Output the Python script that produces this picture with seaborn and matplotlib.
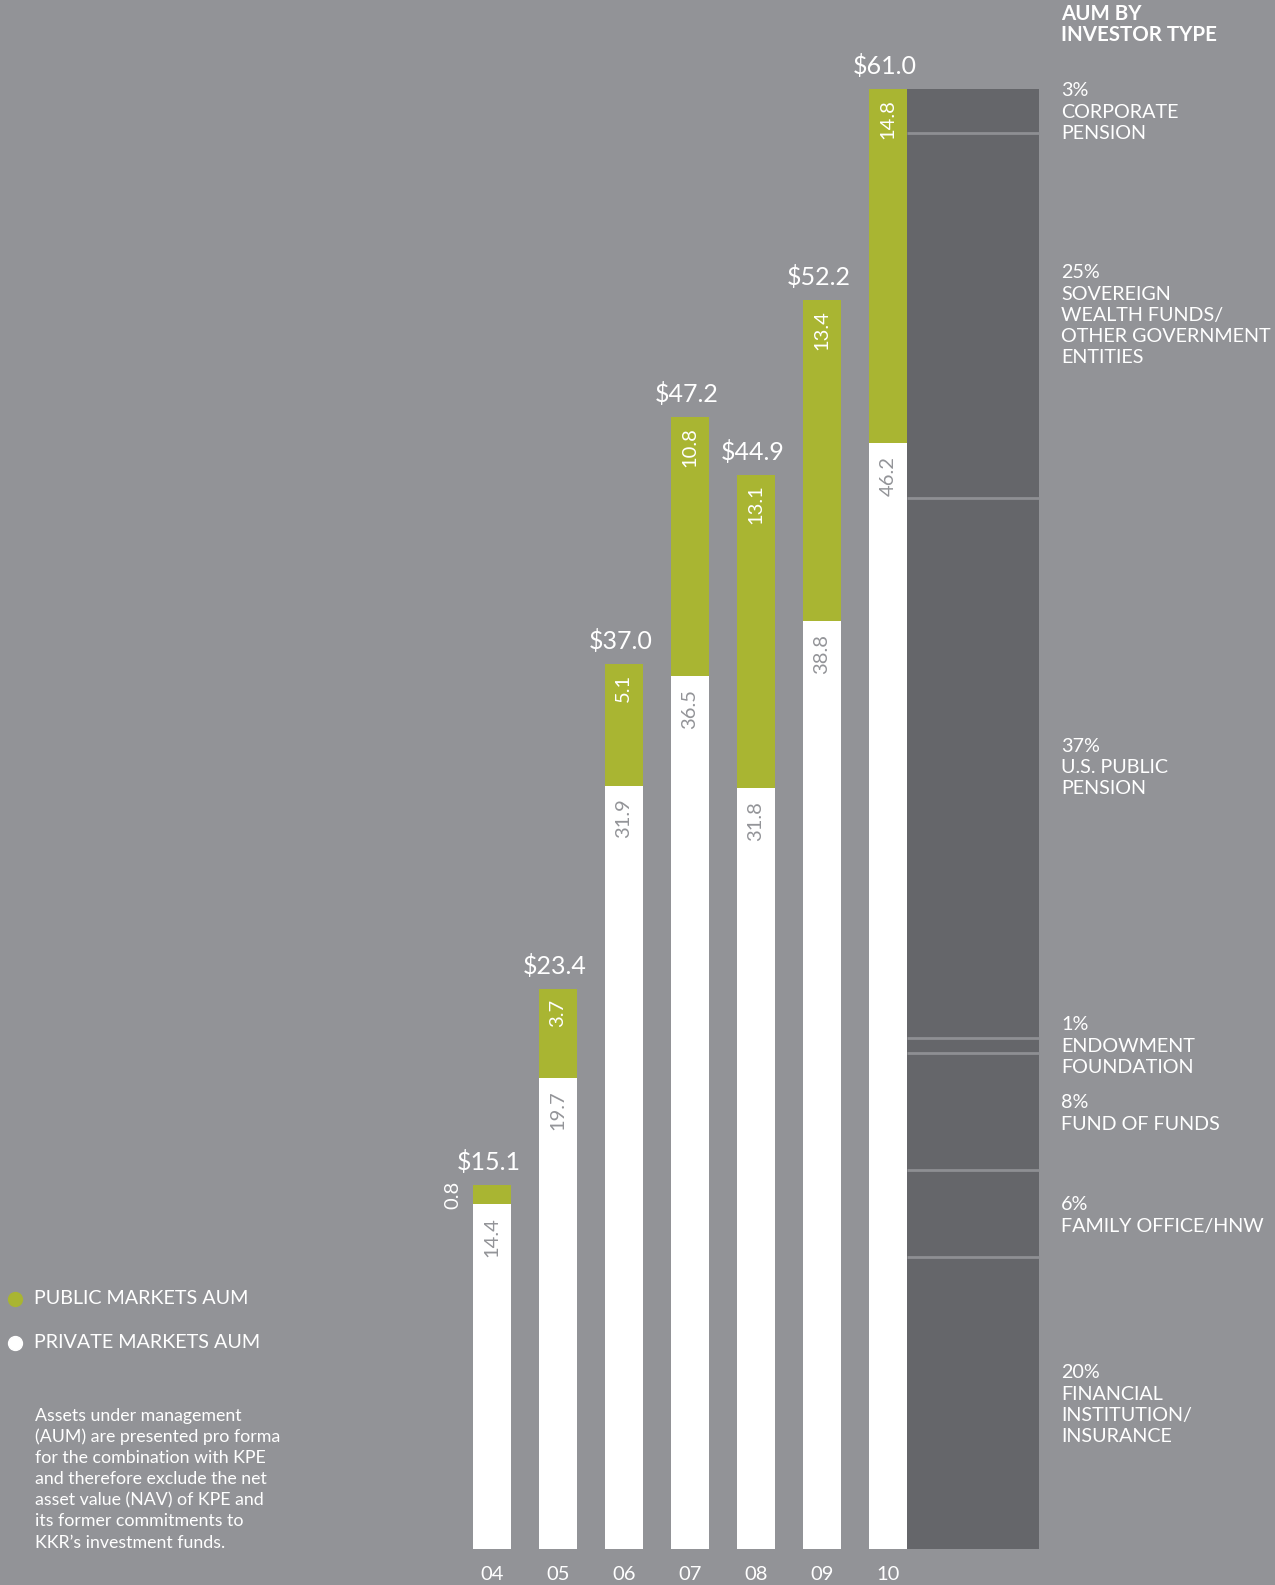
import matplotlib
matplotlib.use("Agg")
import matplotlib.pyplot as plt
import numpy as np
import pandas as pd
import seaborn as sns
from matplotlib.lines import Line2D

# ---- data -------------------------------------------------------------
years = ["04", "05", "06", "07", "08", "09", "10"]
private_aum = [14.4, 19.7, 31.9, 36.5, 31.8, 38.8, 46.2]
public_aum = [0.8, 3.7, 5.1, 10.8, 13.1, 13.4, 14.8]
total_labels = ["$15.1", "$23.4", "$37.0", "$47.2", "$44.9", "$52.2", "$61.0"]

# AUM by investor type for the latest year, listed top to bottom
investor_shares = [3, 25, 37, 1, 8, 6, 20]
investor_labels = [
    ["3%", "CORPORATE", "PENSION"],
    ["25%", "SOVEREIGN", "WEALTH FUNDS/", "OTHER GOVERNMENT", "ENTITIES"],
    ["37%", "U.S. PUBLIC", "PENSION"],
    ["1%", "ENDOWMENT", "FOUNDATION"],
    ["8%", "FUND OF FUNDS"],
    ["6%", "FAMILY OFFICE/HNW"],
    ["20%", "FINANCIAL", "INSTITUTION/", "INSURANCE"],
]
investor_total = 61.0

legend_labels = ["PUBLIC MARKETS AUM", "PRIVATE MARKETS AUM"]
footnote_lines = [
    "Assets under management",
    "(AUM) are presented pro forma",
    "for the combination with KPE",
    "and therefore exclude the net",
    "asset value (NAV) of KPE and",
    "its former commitments to",
    "KKR\u2019s investment funds.",
]

# ---- style --------------------------------------------------------------
BG = "#929397"
GREEN = "#a9b532"
DARK = "#65666a"
SEP = "#8e8f93"
LABEL_GRAY = "#939498"

sns.set_theme(style="white")
plt.rcParams["font.family"] = ["Lato", "DejaVu Sans"]

W, H = 1275, 1585
fig = plt.figure(figsize=(W / 100, H / 100), dpi=100)
fig.patch.set_facecolor(BG)
ax = fig.add_axes([0, 0, 1, 1])
ax.set_facecolor(BG)

df = pd.DataFrame({"year": years, "private": private_aum, "public": public_aum})
df["total"] = df["private"] + df["public"]

BAR_W = 0.58
# stacked bars: full height in green, private part in white over it
sns.barplot(data=df, x="year", y="total", color=GREEN, width=BAR_W,
            saturation=1, errorbar=None, linewidth=0, ax=ax)
sns.barplot(data=df, x="year", y="private", color="white", width=BAR_W,
            saturation=1, errorbar=None, linewidth=0, ax=ax)

# investor-type column beside the last bar
col_left = len(years) - 1 + BAR_W / 2
col_width = 1.99
seg_heights = [s / 100 * investor_total for s in investor_shares][::-1]
bottoms = np.concatenate([[0], np.cumsum(seg_heights)[:-1]])
ax.bar([col_left] * len(seg_heights), seg_heights, bottom=bottoms,
       width=col_width, align="edge", color=DARK, linewidth=0)
for b in bottoms[1:]:
    ax.hlines(b, col_left, col_left + col_width, color=SEP, linewidth=2.0)

# value labels
for i, (pv, pb, tl) in enumerate(zip(private_aum, public_aum, total_labels)):
    top = pv + pb
    ax.annotate(tl, (i, top), xytext=(-3, 15), textcoords="offset pixels",
                ha="center", va="baseline", fontsize=18, color="white")
    if pb >= 2:
        ax.annotate(f"{pb:.1f}", (i, top), xytext=(0, -10),
                    textcoords="offset pixels", rotation=90,
                    ha="center", va="top", fontsize=14.5, color="white")
    else:
        ax.annotate(f"{pb:.1f}", (i - BAR_W / 2, pv + pb / 2), xytext=(-11, 0),
                    textcoords="offset pixels", rotation=90,
                    ha="right", va="center", fontsize=14.5, color="white")
    ax.annotate(f"{pv:.1f}", (i, pv), xytext=(0, -13),
                textcoords="offset pixels", rotation=90,
                ha="center", va="top", fontsize=14.5, color=LABEL_GRAY)
    ax.annotate(years[i], (i, 0), xytext=(0, -25), textcoords="offset pixels",
                ha="center", va="center", fontsize=14.5, color="white")

ax.set_xlim(-7.448, 11.861)
ax.set_ylim(-1.50, 64.73)
ax.axis("off")


def fx(px):
    return px / W


def fy(py):
    return 1 - py / H


# right-hand investor type labels
RX = 1061
LINE = 21.2
fig.text(fx(RX), fy(14), "AUM BY", fontsize=14.8, fontweight="bold",
         color="white", va="center", ha="left")
fig.text(fx(RX), fy(14 + LINE), "INVESTOR TYPE", fontsize=14.8,
         fontweight="bold", color="white", va="center", ha="left")
label_tops = [91, 273, 746, 1025, 1103, 1205, 1373]
for lines, y0 in zip(investor_labels, label_tops):
    for k, line in enumerate(lines):
        fig.text(fx(RX), fy(y0 + k * LINE), line, fontsize=14.2, color="white",
                 va="center", ha="left")

# legend
legend_colors = [GREEN, "white"]
for lab, c, y in zip(legend_labels, legend_colors, [1299, 1343]):
    fig.add_artist(Line2D([fx(15)], [fy(y)], marker="o", markersize=10,
                          color=c, linestyle="none",
                          transform=fig.transFigure))
    fig.text(fx(34), fy(y), lab, fontsize=14.2, color="white",
             va="center", ha="left")

# footnote
for k, line in enumerate(footnote_lines):
    fig.text(fx(35), fy(1415.5 + k * LINE), line, fontsize=12.8, color="white",
             va="center", ha="left")

fig.savefig("out.png", dpi=100, facecolor=BG)
